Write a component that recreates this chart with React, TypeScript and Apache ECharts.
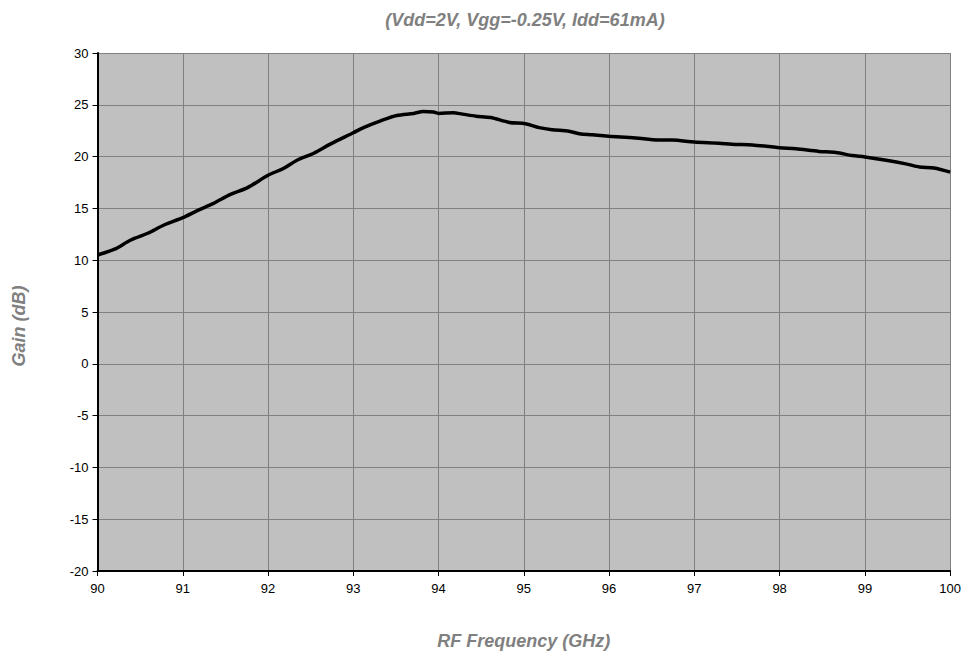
import React, { useEffect, useRef } from "react";
import * as echarts from "echarts";

const titleText = "(Vdd=2V, Vgg=-0.25V, Idd=61mA)";
const xAxisName = "RF Frequency (GHz)";
const yAxisName = "Gain (dB)";

const freqGHz = [
  90.0, 90.2, 90.39, 90.59, 90.78, 91.0, 91.17, 91.36, 91.56, 91.76, 92.0, 92.18,
  92.34, 92.53, 92.73, 93.0, 93.12, 93.32, 93.51, 93.71, 93.82, 93.94, 94.0, 94.17,
  94.28, 94.44, 94.61, 94.83, 95.02, 95.18, 95.33, 95.53, 95.65, 95.8, 96.0, 96.31,
  96.58, 96.74, 97.0, 97.29, 97.44, 97.68, 97.88, 98.0, 98.19, 98.46, 98.66, 98.85,
  99.0, 99.25, 99.48, 99.64, 99.81, 100.0,
];
const gainDb = [
  10.5, 11.06, 11.95, 12.6, 13.4, 14.1, 14.78, 15.48, 16.35, 17.0, 18.2, 18.85,
  19.65, 20.3, 21.2, 22.3, 22.8, 23.45, 23.97, 24.17, 24.36, 24.3, 24.17, 24.23,
  24.1, 23.9, 23.77, 23.3, 23.17, 22.8, 22.6, 22.45, 22.2, 22.1, 21.97, 21.8,
  21.6, 21.6, 21.4, 21.3, 21.2, 21.13, 20.97, 20.85, 20.75, 20.5, 20.4, 20.1,
  19.97, 19.65, 19.3, 19.0, 18.9, 18.5,
];

export default function App() {
  const ref = useRef<HTMLDivElement>(null);
  useEffect(() => {
    if (!ref.current) return;
    const chart = echarts.init(ref.current, undefined, { renderer: "svg" });
    const font = "'Liberation Sans', Arial, sans-serif";
    const nameStyle = {
      fontFamily: font,
      fontSize: 18,
      fontWeight: "bold",
      fontStyle: "italic",
      color: "#808080",
    };
    chart.setOption({
      animation: false,
      backgroundColor: "#ffffff",
      title: {
        text: titleText,
        left: 520,
        top: 6,
        textAlign: "center",
        textStyle: nameStyle,
      },
      graphic: [
        {
          type: "text",
          x: 19,
          y: 326,
          rotation: Math.PI / 2,
          style: {
            text: yAxisName,
            fill: "#808080",
            font: "italic bold 18px 'Liberation Sans', Arial, sans-serif",
            align: "center",
            verticalAlign: "middle",
          },
        },
      ],
      grid: {
        left: 97.5,
        right: 13,
        top: 53,
        bottom: 83,
        show: true,
        backgroundColor: "#C0C0C0",
        borderWidth: 0,
      },
      xAxis: {
        type: "value",
        min: 90,
        max: 100,
        interval: 1,
        name: xAxisName,
        nameLocation: "middle",
        nameGap: 61,
        nameTextStyle: nameStyle,
        axisLine: { show: true, onZero: false, lineStyle: { color: "#000000", width: 2 } },
        axisTick: { show: true, length: 5, lineStyle: { color: "#000000", width: 1 } },
        axisLabel: { fontFamily: font, fontSize: 13, color: "#000000", margin: 11 },
        splitLine: { show: true, lineStyle: { color: "#808080", width: 1 } },
      },
      yAxis: {
        type: "value",
        min: -20,
        max: 30,
        interval: 5,
        axisLine: { show: true, onZero: false, lineStyle: { color: "#000000", width: 2 } },
        axisTick: { show: true, length: 5, lineStyle: { color: "#000000", width: 1 } },
        axisLabel: { fontFamily: font, fontSize: 13, color: "#000000", margin: 9 },
        splitLine: { show: true, lineStyle: { color: "#808080", width: 1 } },
      },
      series: [
        {
          type: "line",
          data: freqGHz.map((f, i) => [f, gainDb[i]]),
          showSymbol: false,
          smooth: 0.3,
          lineStyle: { color: "#000000", width: 3.5 },
          clip: true,
        },
      ],
    });
    return () => chart.dispose();
  }, []);
  return (
    <div
      ref={ref}
      style={{ position: "fixed", left: 0, top: 0, width: 964, height: 655 }}
    />
  );
}
